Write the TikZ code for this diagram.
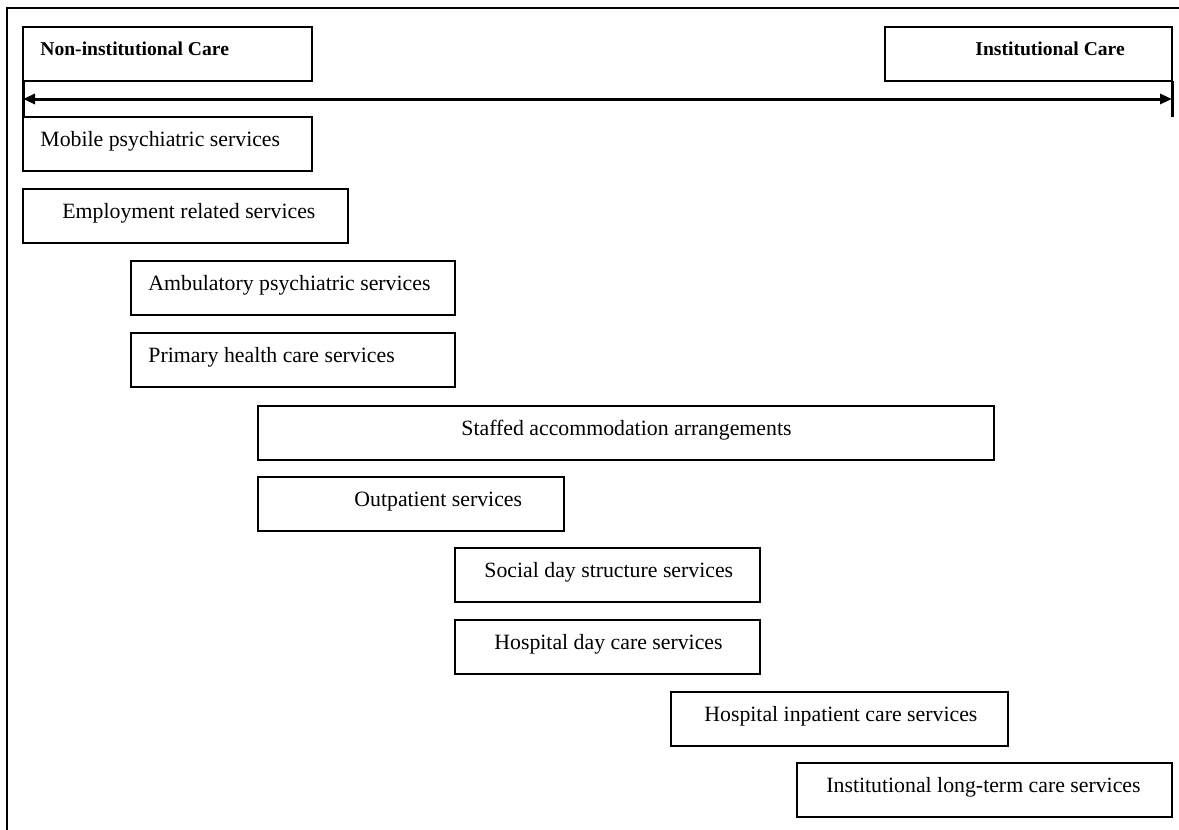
\documentclass[tikz,border=0pt]{standalone}
\usepackage{fontspec}
\setmainfont{Liberation Serif}
\usetikzlibrary{arrows.meta}
\tikzset{
  svcbox/.style={draw, line width=1pt, anchor=north west, inner sep=0pt, outer sep=0pt, minimum height=27pt},
  svctext/.style={anchor=base west, inner sep=0pt, font=\fontsize{10.9}{13}\selectfont},
  hdtext/.style={anchor=base west, inner sep=0pt, font=\fontsize{9.8}{12}\selectfont\bfseries},
  spine/.style={line width=1.5pt},
}
\begin{document}
\begin{tikzpicture}[x=0.5pt,y=-0.5pt]
\useasboundingbox (0,0) rectangle (1179,830);
\draw[line width=1pt] (7,830) -- (7,8) -- (1179,8);
% end labels
\foreach \n/\xa/\xb/\tx/\t in {nic/23/312/40/Non-institutional Care,ic/885/1172/975/Institutional Care} {
  \node[svcbox, minimum width={(\xb-\xa)*0.5pt}] (\n) at (\xa,27) {};
  \node[hdtext] (\n-t) at (\tx,55) {\t};
}
% services
\foreach \n/\xa/\ya/\xb/\tx/\t in {mob/23/117/312/40/Mobile psychiatric services,
  emp/23/189/348/62/Employment related services,
  amb/131/261/455/148/Ambulatory psychiatric services,
  phc/131/333/455/148/Primary health care services,
  sta/258/406/994/461/Staffed accommodation arrangements,
  out/258/477/564/354/Outpatient services,
  soc/455/548/760/484/Social day structure services,
  hdc/455/620/760/494/Hospital day care services,
  hic/671/692/1008/704/Hospital inpatient care services,
  ltc/797/763/1172/826/Institutional long-term care services} {
  \node[svcbox, minimum width={(\xb-\xa)*0.5pt}] (\n) at (\xa,\ya) {};
  \node[svctext] (\n-t) at (\tx,\ya+29) {\t};
}
\coordinate (arrL) at (nic.south west |- 0,99);
\coordinate (arrR) at (ic.south east |- 0,99);
\coordinate (barR) at (ic.south east |- mob.north);
\draw[spine] (nic.south west) -- (mob.north west);
\draw[spine] (ic.south east) -- (barR);
\draw[spine, {Triangle[length=6pt,width=5pt]}-{Triangle[length=6pt,width=5pt]}] (arrL) -- (arrR);
\end{tikzpicture}
\end{document}
